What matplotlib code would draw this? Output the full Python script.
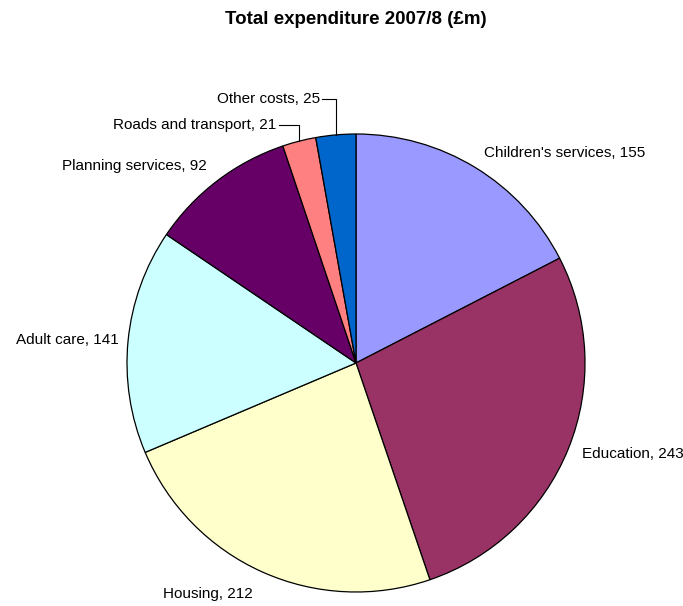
import numpy as np
import matplotlib
matplotlib.use('Agg')
import matplotlib.pyplot as plt

plt.rcParams['font.family'] = ['Liberation Sans', 'DejaVu Sans']

categories = ["Children's services", "Education", "Housing", "Adult care",
              "Planning services", "Roads and transport", "Other costs"]
values = [155, 243, 212, 141, 92, 21, 25]
colours = ['#9999FF', '#993366', '#FFFFCC', '#CCFFFF', '#660066', '#FF8080', '#0066CC']

W, H = 683, 606
fig = plt.figure(figsize=(W / 100, H / 100), dpi=100)
fig.patch.set_facecolor('white')

# square axes so the pie has radius 1 in data units
cx, cy, r = 356, 363, 229
ax = fig.add_axes([(cx - r) / W, (H - cy - r) / H, 2 * r / W, 2 * r / H])
ax.axis('off')

wedges, _ = ax.pie(values, colors=colours, startangle=90, counterclock=False,
                   radius=1, wedgeprops=dict(edgecolor='black', linewidth=0.9))
ax.set_xlim(-1, 1)
ax.set_ylim(-1, 1)

# title centred over the pie
fig.text(cx / W, 1 - 20 / H, 'Total expenditure 2007/8 (£m)', ha='center',
         va='center', fontsize=13.5, fontweight='bold')

def mid_angle(w):
    return np.deg2rad((w.theta1 + w.theta2) / 2)

fs = 11

# plain labels just outside the rim
plain = {0: 1.075, 1: 1.065, 2: 1.105, 3: 1.04, 4: 1.08}
for i, rr in plain.items():
    a = mid_angle(wedges[i])
    x, y = rr * np.cos(a), rr * np.sin(a)
    ha = 'left' if x > 0 else 'right'
    ax.text(x, y, '%s, %d' % (categories[i], values[i]), ha=ha, va='center',
            fontsize=fs, clip_on=False)

# small slices get leader lines
leaders = {5: (1.04, 0.1), 6: (1.155, 0.07)}
for i, (ly, gap) in leaders.items():
    a = mid_angle(wedges[i])
    ex, ey = np.cos(a), np.sin(a)
    tx = ex - gap
    ax.plot([tx + 0.01, ex, ex], [ly, ly, ey], color='black', lw=0.8,
            clip_on=False)
    ax.text(tx, ly, '%s, %d' % (categories[i], values[i]), ha='right',
            va='center', fontsize=fs, clip_on=False)

fig.savefig('out.png', dpi=100)
